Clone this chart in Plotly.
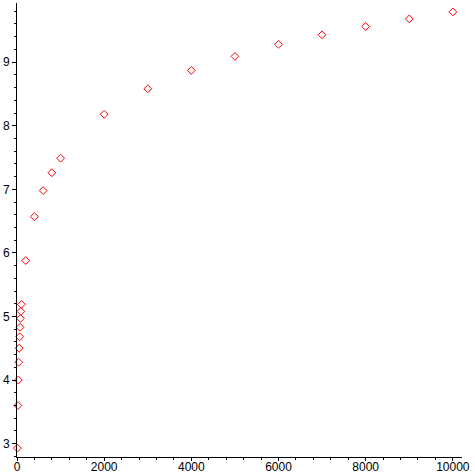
import plotly.graph_objects as go

# n values and the readings
n_vals = [10, 20, 30, 40, 50, 60, 70, 80, 90, 100,
          200, 400, 600, 800, 1000,
          2000, 3000, 4000, 5000, 6000, 7000, 8000, 9000, 10000]
y_vals = [2.93, 3.60, 4.00, 4.28, 4.50, 4.68, 4.83, 4.97, 5.08, 5.19,
          5.88, 6.57, 6.98, 7.26, 7.49,
          8.18, 8.58, 8.87, 9.09, 9.28, 9.43, 9.56, 9.68, 9.79]

x_ticks = [0, 2000, 4000, 6000, 8000, 10000]
y_ticks = [3, 4, 5, 6, 7, 8, 9]

fig = go.Figure()
fig.add_trace(go.Scatter(
    x=n_vals, y=y_vals, mode="markers",
    marker=dict(symbol="diamond-open", size=6, color="#ff0000", line=dict(width=1, color="#ff0000")),
    cliponaxis=False, showlegend=False,
))

axis_font = dict(family="Liberation Sans, Arial, sans-serif", size=12, color="black")

fig.update_xaxes(
    range=[0, 10210], showgrid=False, zeroline=False, automargin=False,
    showline=True, linecolor="black", linewidth=1,
    tickmode="array", tickvals=x_ticks, ticktext=[str(v) for v in x_ticks],
    ticks="outside", ticklen=3, tickcolor="black", tickwidth=1,
    minor=dict(dtick=400, tick0=0, ticks="outside", ticklen=2, tickcolor="black"),
    tickfont=axis_font, ticklabelstandoff=-4,
)
fig.update_yaxes(
    range=[2.79, 9.93], showgrid=False, zeroline=False, automargin=False,
    showline=True, linecolor="black", linewidth=1,
    tickmode="array", tickvals=y_ticks, ticktext=[str(v) for v in y_ticks],
    ticks="outside", ticklen=4, tickcolor="black", tickwidth=1,
    minor=dict(dtick=0.2, tick0=0, ticks="outside", ticklen=2, tickcolor="black"),
    tickfont=axis_font, ticklabelstandoff=0,
)

fig.update_layout(
    width=475, height=475,
    margin=dict(l=17, r=13, t=3, b=18),
    plot_bgcolor="white", paper_bgcolor="white",
)

# the page's default body margin would shift the figure by 8px
fig.write_html("out.html", config={"displayModeBar": False},
               post_script="document.body.style.margin='0';")
